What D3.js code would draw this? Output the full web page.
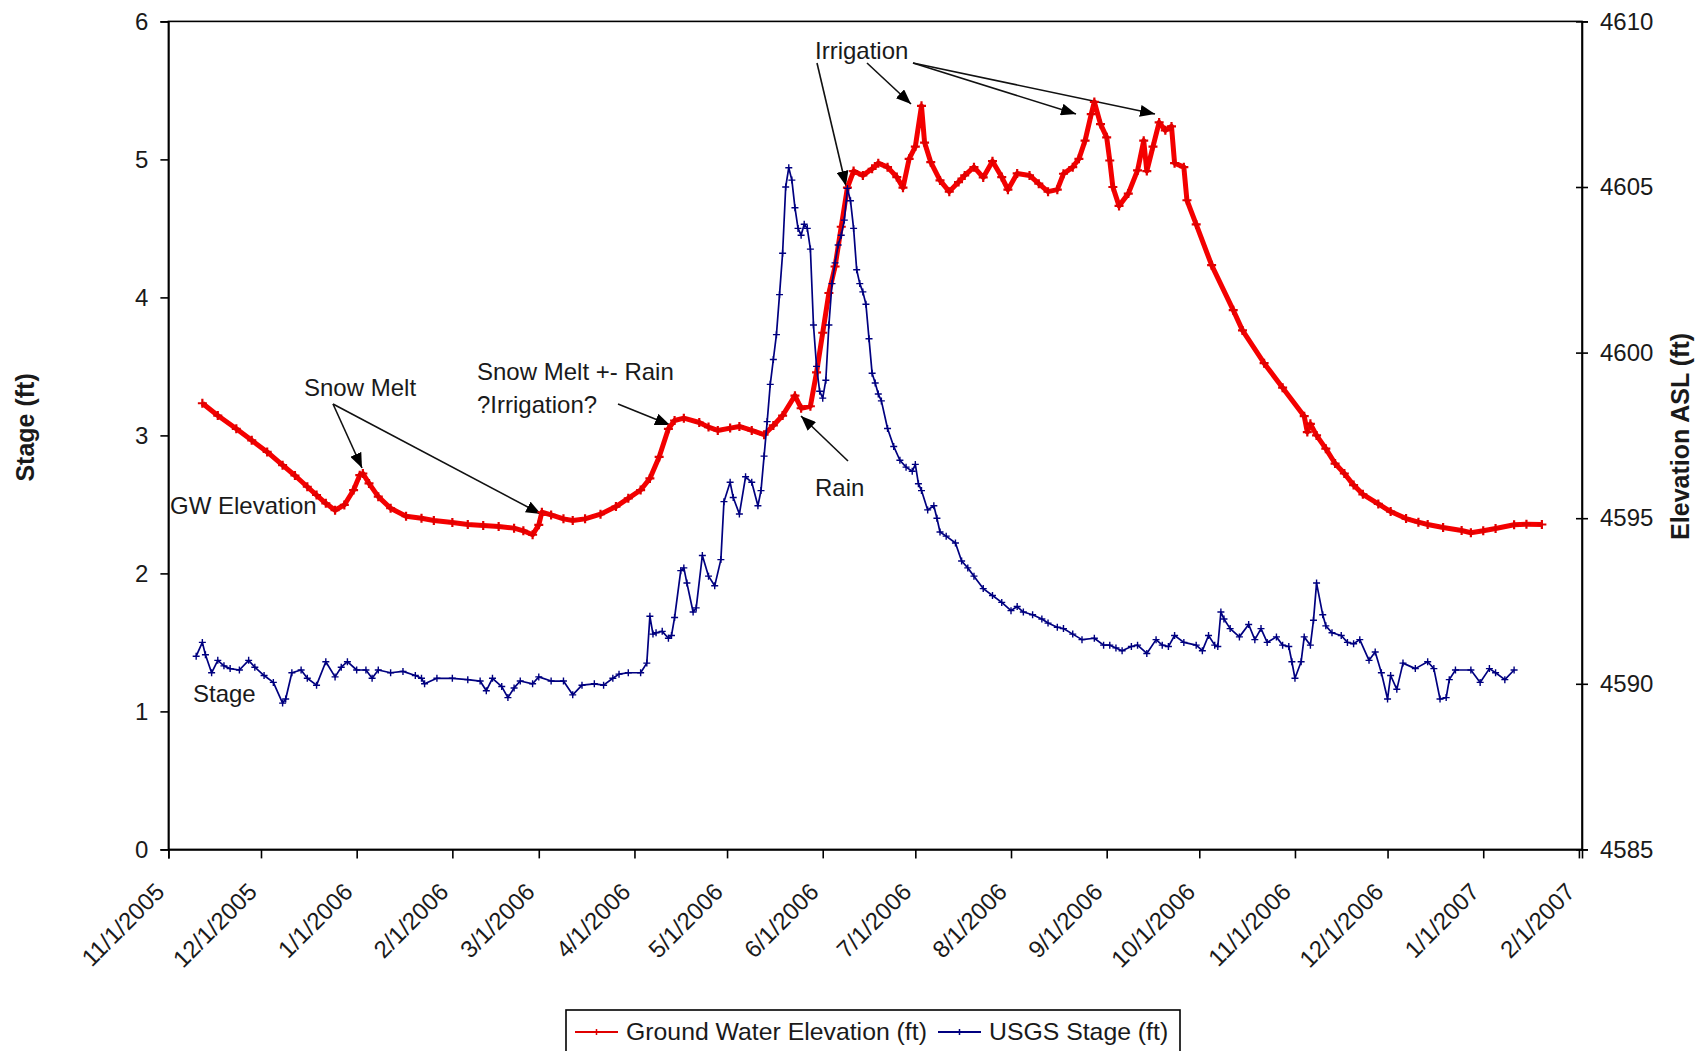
<!DOCTYPE html>
<html>
<head>
<meta charset="utf-8">
<script src="https://cdn.jsdelivr.net/npm/d3@7"></script>
<style>
  body { margin: 0; background: #fff; }
  svg text { font-family: "Liberation Sans", Arial, sans-serif; fill: #1a1a1a; }
</style>
</head>
<body>
<svg width="1701" height="1051"></svg>
<script>
// USGS stage (ft), left axis
const stageData = [
  ["2005-11-10", 1.40], ["2005-11-12", 1.50], ["2005-11-13", 1.41], ["2005-11-15", 1.28],
  ["2005-11-17", 1.37], ["2005-11-19", 1.33], ["2005-11-21", 1.31], ["2005-11-24", 1.30],
  ["2005-11-27", 1.37], ["2005-11-29", 1.32], ["2005-12-02", 1.26], ["2005-12-05", 1.21],
  ["2005-12-08", 1.06], ["2005-12-09", 1.09], ["2005-12-11", 1.28], ["2005-12-14", 1.30],
  ["2005-12-16", 1.24], ["2005-12-19", 1.19], ["2005-12-22", 1.36], ["2005-12-25", 1.25],
  ["2005-12-27", 1.32], ["2005-12-29", 1.36], ["2006-01-01", 1.30], ["2006-01-04", 1.30],
  ["2006-01-06", 1.24], ["2006-01-08", 1.30], ["2006-01-12", 1.28], ["2006-01-16", 1.29],
  ["2006-01-20", 1.26], ["2006-01-22", 1.24], ["2006-01-23", 1.20], ["2006-01-27", 1.24],
  ["2006-02-01", 1.24], ["2006-02-06", 1.23], ["2006-02-10", 1.22], ["2006-02-12", 1.15],
  ["2006-02-14", 1.24], ["2006-02-17", 1.18], ["2006-02-19", 1.10], ["2006-02-21", 1.17],
  ["2006-02-23", 1.22], ["2006-02-27", 1.20], ["2006-03-01", 1.25], ["2006-03-05", 1.22],
  ["2006-03-09", 1.22], ["2006-03-12", 1.12], ["2006-03-15", 1.19], ["2006-03-19", 1.20],
  ["2006-03-22", 1.19], ["2006-03-25", 1.24], ["2006-03-27", 1.27], ["2006-03-30", 1.28],
  ["2006-04-03", 1.28], ["2006-04-05", 1.35], ["2006-04-06", 1.69], ["2006-04-07", 1.56],
  ["2006-04-08", 1.57], ["2006-04-10", 1.58], ["2006-04-12", 1.53], ["2006-04-13", 1.55],
  ["2006-04-14", 1.68], ["2006-04-16", 2.02], ["2006-04-17", 2.04], ["2006-04-18", 1.93],
  ["2006-04-20", 1.72], ["2006-04-21", 1.75], ["2006-04-23", 2.13], ["2006-04-25", 1.98],
  ["2006-04-27", 1.91], ["2006-04-29", 2.10], ["2006-04-30", 2.52], ["2006-05-02", 2.66],
  ["2006-05-03", 2.55], ["2006-05-05", 2.43], ["2006-05-07", 2.70], ["2006-05-09", 2.66],
  ["2006-05-11", 2.49], ["2006-05-12", 2.60], ["2006-05-13", 2.85], ["2006-05-14", 3.10],
  ["2006-05-15", 3.37], ["2006-05-16", 3.55], ["2006-05-17", 3.73], ["2006-05-18", 4.02],
  ["2006-05-19", 4.32], ["2006-05-20", 4.80], ["2006-05-21", 4.94], ["2006-05-22", 4.85],
  ["2006-05-23", 4.65], ["2006-05-24", 4.50], ["2006-05-25", 4.45], ["2006-05-26", 4.53],
  ["2006-05-27", 4.50], ["2006-05-28", 4.35], ["2006-05-29", 3.80], ["2006-05-30", 3.50],
  ["2006-05-31", 3.32], ["2006-06-01", 3.27], ["2006-06-02", 3.40], ["2006-06-03", 3.80],
  ["2006-06-04", 4.10], ["2006-06-05", 4.25], ["2006-06-06", 4.38], ["2006-06-07", 4.45],
  ["2006-06-08", 4.56], ["2006-06-09", 4.79], ["2006-06-10", 4.70], ["2006-06-11", 4.50],
  ["2006-06-12", 4.20], ["2006-06-13", 4.10], ["2006-06-14", 4.04], ["2006-06-15", 3.95],
  ["2006-06-16", 3.70], ["2006-06-17", 3.45], ["2006-06-18", 3.38], ["2006-06-19", 3.30],
  ["2006-06-20", 3.25], ["2006-06-22", 3.05], ["2006-06-24", 2.92], ["2006-06-26", 2.82],
  ["2006-06-28", 2.77], ["2006-06-30", 2.74], ["2006-07-01", 2.79], ["2006-07-02", 2.65],
  ["2006-07-03", 2.60], ["2006-07-05", 2.46], ["2006-07-07", 2.49], ["2006-07-08", 2.40],
  ["2006-07-09", 2.30], ["2006-07-11", 2.27], ["2006-07-14", 2.22], ["2006-07-16", 2.09],
  ["2006-07-18", 2.04], ["2006-07-20", 1.98], ["2006-07-23", 1.89], ["2006-07-26", 1.84],
  ["2006-07-29", 1.79], ["2006-08-01", 1.73], ["2006-08-03", 1.76], ["2006-08-05", 1.72],
  ["2006-08-08", 1.70], ["2006-08-11", 1.67], ["2006-08-13", 1.64], ["2006-08-16", 1.61],
  ["2006-08-18", 1.60], ["2006-08-21", 1.56], ["2006-08-24", 1.52], ["2006-08-28", 1.53],
  ["2006-08-31", 1.48], ["2006-09-02", 1.48], ["2006-09-04", 1.46], ["2006-09-06", 1.44],
  ["2006-09-09", 1.47], ["2006-09-11", 1.48], ["2006-09-14", 1.42], ["2006-09-17", 1.52],
  ["2006-09-19", 1.48], ["2006-09-21", 1.47], ["2006-09-23", 1.55], ["2006-09-26", 1.50],
  ["2006-09-30", 1.48], ["2006-10-02", 1.44], ["2006-10-04", 1.55], ["2006-10-06", 1.48],
  ["2006-10-07", 1.47], ["2006-10-08", 1.72], ["2006-10-09", 1.67], ["2006-10-11", 1.60],
  ["2006-10-14", 1.54], ["2006-10-17", 1.63], ["2006-10-19", 1.52], ["2006-10-21", 1.60],
  ["2006-10-23", 1.50], ["2006-10-26", 1.54], ["2006-10-28", 1.48], ["2006-10-30", 1.47],
  ["2006-10-31", 1.36], ["2006-11-01", 1.24], ["2006-11-03", 1.36], ["2006-11-04", 1.54],
  ["2006-11-06", 1.48], ["2006-11-07", 1.66], ["2006-11-08", 1.93], ["2006-11-10", 1.70],
  ["2006-11-11", 1.62], ["2006-11-13", 1.57], ["2006-11-16", 1.55], ["2006-11-18", 1.50],
  ["2006-11-20", 1.49], ["2006-11-22", 1.52], ["2006-11-25", 1.37], ["2006-11-27", 1.43],
  ["2006-11-29", 1.28], ["2006-12-01", 1.09], ["2006-12-02", 1.26], ["2006-12-04", 1.16],
  ["2006-12-06", 1.35], ["2006-12-10", 1.31], ["2006-12-14", 1.36], ["2006-12-16", 1.31],
  ["2006-12-18", 1.09], ["2006-12-20", 1.10], ["2006-12-21", 1.23], ["2006-12-23", 1.30],
  ["2006-12-28", 1.30], ["2006-12-31", 1.21], ["2007-01-03", 1.31], ["2007-01-05", 1.28],
  ["2007-01-08", 1.23], ["2007-01-11", 1.30]
];

// ground water elevation (ft ASL), right axis
const gwData = [
  ["2005-11-12", 4598.47], ["2005-11-17", 4598.10], ["2005-11-23", 4597.70], ["2005-11-28", 4597.35],
  ["2005-12-03", 4597.00], ["2005-12-08", 4596.60], ["2005-12-12", 4596.29], ["2005-12-16", 4595.95],
  ["2005-12-19", 4595.70], ["2005-12-22", 4595.45], ["2005-12-25", 4595.24], ["2005-12-28", 4595.40],
  ["2005-12-31", 4595.85], ["2006-01-02", 4596.30], ["2006-01-03", 4596.35], ["2006-01-05", 4596.05],
  ["2006-01-08", 4595.65], ["2006-01-12", 4595.30], ["2006-01-17", 4595.06], ["2006-01-22", 4595.00],
  ["2006-01-26", 4594.93], ["2006-02-01", 4594.87], ["2006-02-06", 4594.81], ["2006-02-11", 4594.78],
  ["2006-02-16", 4594.75], ["2006-02-21", 4594.70], ["2006-02-24", 4594.62], ["2006-02-27", 4594.50],
  ["2006-03-01", 4594.80], ["2006-03-02", 4595.18], ["2006-03-05", 4595.10], ["2006-03-09", 4594.98],
  ["2006-03-12", 4594.93], ["2006-03-16", 4594.98], ["2006-03-21", 4595.12], ["2006-03-26", 4595.35],
  ["2006-03-30", 4595.60], ["2006-04-03", 4595.85], ["2006-04-06", 4596.20], ["2006-04-09", 4596.85],
  ["2006-04-12", 4597.70], ["2006-04-14", 4597.95], ["2006-04-17", 4598.02], ["2006-04-22", 4597.89],
  ["2006-04-25", 4597.75], ["2006-04-28", 4597.65], ["2006-05-02", 4597.72], ["2006-05-05", 4597.77],
  ["2006-05-09", 4597.65], ["2006-05-13", 4597.52], ["2006-05-16", 4597.80], ["2006-05-19", 4598.10],
  ["2006-05-23", 4598.70], ["2006-05-25", 4598.32], ["2006-05-28", 4598.38], ["2006-05-30", 4599.40],
  ["2006-06-01", 4600.60], ["2006-06-03", 4601.80], ["2006-06-05", 4602.60], ["2006-06-07", 4603.80],
  ["2006-06-09", 4604.98], ["2006-06-11", 4605.48], ["2006-06-14", 4605.35], ["2006-06-17", 4605.55],
  ["2006-06-19", 4605.72], ["2006-06-22", 4605.60], ["2006-06-25", 4605.30], ["2006-06-27", 4604.98],
  ["2006-06-29", 4605.85], ["2006-07-01", 4606.22], ["2006-07-03", 4607.45], ["2006-07-04", 4606.34],
  ["2006-07-06", 4605.75], ["2006-07-09", 4605.20], ["2006-07-12", 4604.86], ["2006-07-15", 4605.15],
  ["2006-07-17", 4605.35], ["2006-07-20", 4605.60], ["2006-07-23", 4605.29], ["2006-07-26", 4605.78],
  ["2006-07-29", 4605.30], ["2006-07-31", 4604.92], ["2006-08-03", 4605.41], ["2006-08-07", 4605.35],
  ["2006-08-10", 4605.10], ["2006-08-13", 4604.86], ["2006-08-16", 4604.92], ["2006-08-18", 4605.40],
  ["2006-08-21", 4605.60], ["2006-08-23", 4605.85], ["2006-08-25", 4606.40], ["2006-08-27", 4607.20],
  ["2006-08-28", 4607.57], ["2006-08-30", 4606.90], ["2006-09-01", 4606.50], ["2006-09-02", 4605.80],
  ["2006-09-03", 4605.00], ["2006-09-05", 4604.43], ["2006-09-08", 4604.80], ["2006-09-11", 4605.50],
  ["2006-09-13", 4606.40], ["2006-09-14", 4605.48], ["2006-09-16", 4606.22], ["2006-09-18", 4606.95],
  ["2006-09-20", 4606.71], ["2006-09-22", 4606.83], ["2006-09-23", 4605.72], ["2006-09-26", 4605.60],
  ["2006-09-27", 4604.60], ["2006-09-30", 4603.87], ["2006-10-05", 4602.64], ["2006-10-12", 4601.28],
  ["2006-10-15", 4600.67], ["2006-10-22", 4599.68], ["2006-10-28", 4598.94], ["2006-11-04", 4598.08],
  ["2006-11-05", 4597.60], ["2006-11-06", 4597.85], ["2006-11-08", 4597.50], ["2006-11-11", 4597.10],
  ["2006-11-14", 4596.65], ["2006-11-17", 4596.35], ["2006-11-20", 4596.00], ["2006-11-23", 4595.72],
  ["2006-11-28", 4595.43], ["2006-12-02", 4595.20], ["2006-12-07", 4594.99], ["2006-12-11", 4594.88],
  ["2006-12-14", 4594.81], ["2006-12-19", 4594.72], ["2006-12-25", 4594.63], ["2006-12-28", 4594.56],
  ["2007-01-01", 4594.62], ["2007-01-05", 4594.69], ["2007-01-11", 4594.80], ["2007-01-15", 4594.82],
  ["2007-01-20", 4594.81]
];

const stageTicks = [0, 1, 2, 3, 4, 5, 6];
const elevTicks = [4585, 4590, 4595, 4600, 4605, 4610];
const monthTicks = ["2005-11-01", "2005-12-01", "2006-01-01", "2006-02-01", "2006-03-01",
  "2006-04-01", "2006-05-01", "2006-06-01", "2006-07-01", "2006-08-01", "2006-09-01",
  "2006-10-01", "2006-11-01", "2006-12-01", "2007-01-01", "2007-02-01"];
const seriesNames = ["Ground Water Elevation (ft)", "USGS Stage (ft)"];

// annotation text boxes and arrows (pixel layout)
const notes = [
  { text: "Snow Melt", x: 304, y: 396 },
  { text: "GW Elevation", x: 170, y: 514 },
  { text: "Stage", x: 193, y: 702 },
  { text: "Snow Melt +- Rain", x: 477, y: 380 },
  { text: "?Irrigation?", x: 477, y: 413 },
  { text: "Rain", x: 815, y: 496 },
  { text: "Irrigation", x: 815, y: 59 }
];
const arrows = [
  [333, 404, 362, 468], [333, 404, 541, 514], [618, 404, 670, 425], [848, 461, 801, 416],
  [817, 63, 846, 186], [867, 63, 911, 104], [913, 63, 1076, 114], [913, 63, 1155, 114]
];

const parseDate = d3.timeParse("%Y-%m-%d");
const svg = d3.select("svg");
const plot = { left: 168.4, right: 1582, top: 21.4, bottom: 849.4 };
const fontSize = 24;

const x = d3.scaleTime()
  .domain([parseDate("2005-11-01"), parseDate("2007-02-02")])
  .range([plot.left, plot.right]);
const yStage = d3.scaleLinear().domain([0, 6]).range([plot.bottom, plot.top]);
const yElev = d3.scaleLinear().domain([4585, 4610]).range([plot.bottom, plot.top]);

const stage = stageData.map((d) => ({ date: parseDate(d[0]), value: d[1] }));
const gw = gwData.map((d) => ({ date: parseDate(d[0]), value: d[1] }));

// plot frame
svg.append("rect")
  .attr("x", plot.left).attr("y", plot.top)
  .attr("width", plot.right - plot.left).attr("height", plot.bottom - plot.top)
  .attr("fill", "none").attr("stroke", "#000").attr("stroke-width", 1.6);

// left axis
const leftAxis = svg.append("g")
  .attr("transform", `translate(${plot.left},0)`)
  .call(d3.axisLeft(yStage).tickValues(stageTicks).tickSize(8).tickPadding(12).tickFormat(d3.format("d")));

// right axis, ticks cross the line
const rightAxis = svg.append("g")
  .attr("transform", `translate(${plot.right},0)`)
  .call(d3.axisRight(yElev).tickValues(elevTicks).tickSize(6).tickPadding(12).tickFormat(d3.format("d")));
rightAxis.selectAll(".tick line").attr("x1", -6);

// bottom axis with rotated date labels
const bottomAxis = svg.append("g")
  .attr("transform", `translate(0,${plot.bottom})`)
  .call(d3.axisBottom(x).tickValues(monthTicks.map(parseDate)).tickSize(9)
    .tickFormat(d3.timeFormat("%-m/%-d/%Y")));
bottomAxis.selectAll(".tick text")
  .attr("x", 0).attr("y", 0).attr("dy", null)
  .attr("transform", "translate(-3,44) rotate(-45)")
  .style("text-anchor", "end");

[leftAxis, rightAxis, bottomAxis].forEach((g) => {
  g.select(".domain").attr("stroke", "#000").attr("stroke-width", 1.6);
  g.selectAll(".tick line").attr("stroke", "#000").attr("stroke-width", 1.6);
  g.selectAll(".tick text").attr("font-size", fontSize).attr("fill", "#1a1a1a")
    .attr("font-family", "Liberation Sans, Arial, sans-serif");
});

// axis titles
svg.append("text")
  .attr("transform", `translate(34,${(plot.top + plot.bottom) / 2 - 8}) rotate(-90)`)
  .attr("text-anchor", "middle").attr("font-size", 25).attr("font-weight", "bold")
  .text("Stage (ft)");
svg.append("text")
  .attr("transform", `translate(1689,${(plot.top + plot.bottom) / 2 + 1}) rotate(-90)`)
  .attr("text-anchor", "middle").attr("font-size", 25).attr("font-weight", "bold")
  .text("Elevation ASL (ft)");

// annotations
svg.selectAll("text.note").data(notes).enter().append("text")
  .attr("class", "note")
  .attr("x", (d) => d.x).attr("y", (d) => d.y)
  .attr("font-size", fontSize)
  .text((d) => d.text);

const defs = svg.append("defs");
defs.append("marker")
  .attr("id", "arrowhead")
  .attr("markerUnits", "userSpaceOnUse")
  .attr("markerWidth", 16).attr("markerHeight", 12)
  .attr("refX", 15).attr("refY", 6)
  .attr("orient", "auto")
  .append("path").attr("d", "M0,0 L15,6 L0,12 Z").attr("fill", "#000");

svg.selectAll("line.arrow").data(arrows).enter().append("line")
  .attr("class", "arrow")
  .attr("x1", (d) => d[0]).attr("y1", (d) => d[1])
  .attr("x2", (d) => d[2]).attr("y2", (d) => d[3])
  .attr("stroke", "#111").attr("stroke-width", 1.6)
  .attr("marker-end", "url(#arrowhead)");

// plus marker
const plusPath = (s) => `M${-s},0H${s}M0,${-s}V${s}`;

// ground water series (red)
const gwLine = d3.line().x((d) => x(d.date)).y((d) => yElev(d.value));
svg.append("path").datum(gw)
  .attr("d", gwLine)
  .attr("fill", "none").attr("stroke", "#f40000").attr("stroke-width", 5)
  .attr("stroke-linejoin", "round");
svg.selectAll("path.gwMark").data(gw).enter().append("path")
  .attr("class", "gwMark")
  .attr("transform", (d) => `translate(${x(d.date)},${yElev(d.value)})`)
  .attr("d", plusPath(4.5))
  .attr("stroke", "#e00000").attr("stroke-width", 2.2);

// stage series (navy)
const stageLine = d3.line().x((d) => x(d.date)).y((d) => yStage(d.value));
svg.append("path").datum(stage)
  .attr("d", stageLine)
  .attr("fill", "none").attr("stroke", "#000080").attr("stroke-width", 1.7)
  .attr("stroke-linejoin", "round");
svg.selectAll("path.stMark").data(stage).enter().append("path")
  .attr("class", "stMark")
  .attr("transform", (d) => `translate(${x(d.date)},${yStage(d.value)})`)
  .attr("d", plusPath(3.5))
  .attr("stroke", "#000080").attr("stroke-width", 1.4);

// legend
const legend = svg.append("g").attr("transform", "translate(566,1010)");
legend.append("rect")
  .attr("width", 614).attr("height", 60)
  .attr("fill", "#fff").attr("stroke", "#000").attr("stroke-width", 1.6);
const legendItems = [
  { name: seriesNames[0], color: "#e00000", x0: 9 },
  { name: seriesNames[1], color: "#000080", x0: 372 }
];
legendItems.forEach((item) => {
  legend.append("line")
    .attr("x1", item.x0).attr("x2", item.x0 + 43)
    .attr("y1", 22).attr("y2", 22)
    .attr("stroke", item.color).attr("stroke-width", 2);
  legend.append("path")
    .attr("transform", `translate(${item.x0 + 21.5},22)`)
    .attr("d", plusPath(3))
    .attr("stroke", item.color).attr("stroke-width", 1.5);
  legend.append("text")
    .attr("x", item.x0 + 51).attr("y", 30)
    .attr("font-size", 24.8)
    .text(item.name);
});
</script>
</body>
</html>
